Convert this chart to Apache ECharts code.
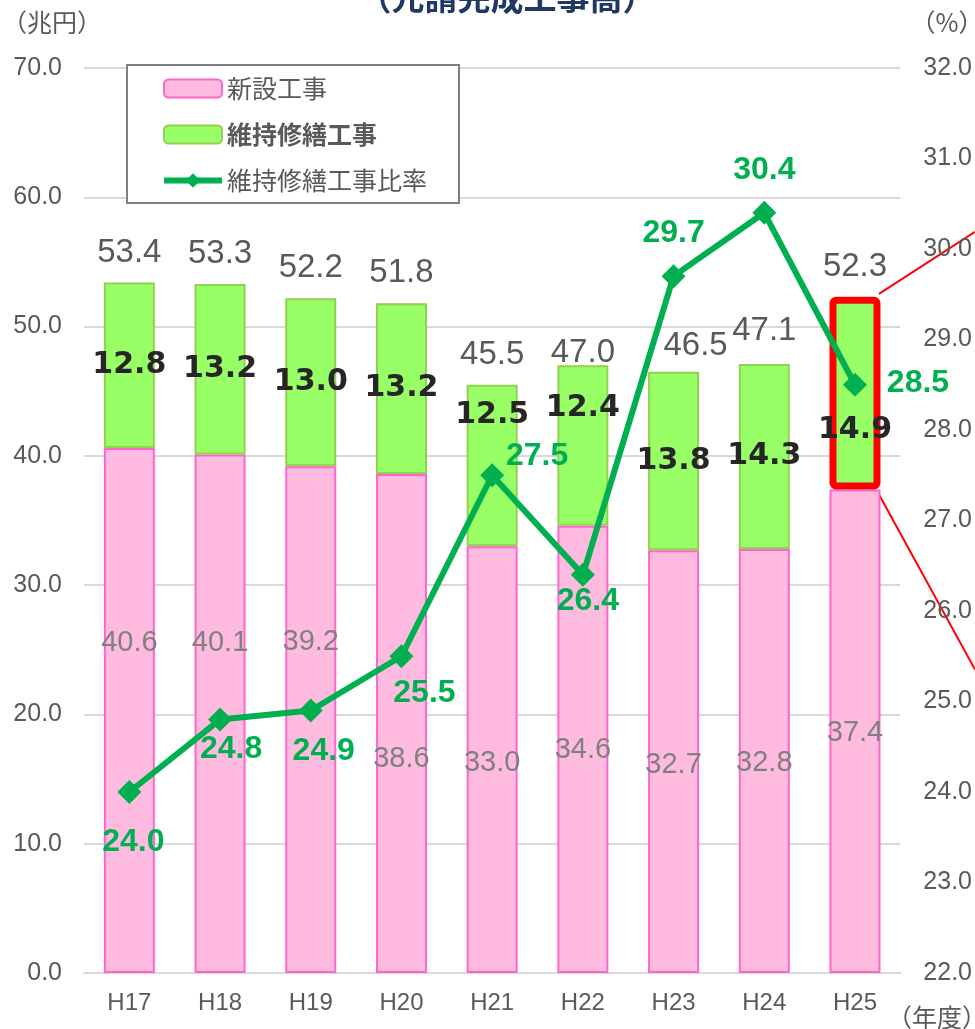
<!DOCTYPE html>
<html>
<head>
<meta charset="utf-8">
<script src="https://cdn.jsdelivr.net/npm/echarts@6/dist/echarts.min.js"></script>
<style>
  html, body { margin: 0; padding: 0; background: #fff; }
  #chart { width: 975px; height: 1029px; }
</style>
</head>
<body>
<div id="chart"></div>
<script>
// 年度
var years = ['H17', 'H18', 'H19', 'H20', 'H21', 'H22', 'H23', 'H24', 'H25'];
// 新設工事（兆円）
var newWork = [40.6, 40.1, 39.2, 38.6, 33.0, 34.6, 32.7, 32.8, 37.4];
// 維持修繕工事（兆円）
var repairWork = [12.8, 13.2, 13.0, 13.2, 12.5, 12.4, 13.8, 14.3, 14.9];
// 合計（兆円）
var totals = [53.4, 53.3, 52.2, 51.8, 45.5, 47.0, 46.5, 47.1, 52.3];
// 維持修繕工事比率（%）
var repairRatio = [24.0, 24.8, 24.9, 25.5, 27.5, 26.4, 29.7, 30.4, 28.5];

// ラベル位置の微調整（px）
var newLabelShift = [-68, -71, -78, 36, 3, 1, 3, 2, 2];
var repairLabelShift = [0, 0, 0, 0, -50, -37, 0, 0, 37];
var totalLabelShift = [[0, 0], [0, 0], [0, 0], [0, 0], [0, 0], [0, 18], [22, 4], [0, -3], [0, 0]];
var ratioLabelShift = [[4, 50], [11, 30], [13, 41], [23, 37], [45, -19], [5, 26], [0, -43], [0, -43], [63, -2]];
var highlightIndex = 8;

var FONT = "'Liberation Sans', 'Noto Sans CJK JP', sans-serif";
var CJK = "'Noto Sans CJK JP', sans-serif";

var chart = echarts.init(document.getElementById('chart'));

chart.setOption({
  animation: false,
  textStyle: { fontFamily: FONT },
  grid: { left: 84, right: 61, top: 68, bottom: 56 },
  legend: {
    data: ['新設工事', '維持修繕工事', '維持修繕工事比率'],
    orient: 'vertical',
    left: 127,
    top: 65,
    padding: [11, 32, 10, 34],
    itemGap: 21,
    itemWidth: 58,
    itemHeight: 18,
    backgroundColor: '#fff',
    borderColor: '#7f7f7f',
    borderWidth: 2,
    lineStyle: { width: 6 },
    textStyle: {
      fontFamily: CJK,
      fontSize: 25,
      color: '#595959',
      rich: { b: { fontFamily: CJK, fontSize: 25, fontWeight: 'bold', color: '#595959' } }
    },
    formatter: function (name) {
      return name === '維持修繕工事' ? '{b|' + name + '}' : name;
    }
  },
  xAxis: {
    type: 'category',
    data: years,
    axisLine: { lineStyle: { color: '#d9d9d9', width: 2 } },
    axisTick: { show: false },
    axisLabel: { color: '#595959', fontSize: 24, margin: 18 }
  },
  yAxis: [{
    type: 'value',
    min: 0, max: 70, interval: 10,
    axisLabel: {
      color: '#595959', fontSize: 25, margin: 22,
      formatter: function (v) { return v.toFixed(1); }
    },
    splitLine: { lineStyle: { color: '#d9d9d9', width: 2 } }
  }, {
    type: 'value',
    min: 22, max: 32, interval: 1,
    axisLabel: {
      color: '#595959', fontSize: 25, margin: 23,
      formatter: function (v) { return v.toFixed(1); }
    },
    splitLine: { show: false }
  }],
  series: [{
    name: '新設工事',
    type: 'bar',
    stack: 'total',
    barWidth: 51,
    itemStyle: { color: '#ffbadf', borderColor: '#ff66cc', borderWidth: 2 },
    label: {
      show: true, position: 'inside',
      color: '#808080', fontSize: 29,
      formatter: function (p) { return p.value.toFixed(1); }
    },
    data: newWork.map(function (v, i) {
      return { value: v, label: { offset: [0, newLabelShift[i]] } };
    })
  }, {
    name: '維持修繕工事',
    type: 'bar',
    stack: 'total',
    itemStyle: { color: '#99ff66', borderColor: '#92d050', borderWidth: 2 },
    label: {
      show: true, position: 'inside',
      color: '#262626', fontSize: 30, fontWeight: 'bold',
      fontFamily: "'DejaVu Sans', sans-serif",
      formatter: function (p) { return p.value.toFixed(1); }
    },
    data: repairWork.map(function (v, i) {
      var d = { value: v, label: { offset: [0, repairLabelShift[i]] } };
      if (i === highlightIndex) {
        d.itemStyle = { borderColor: '#ff0000', borderWidth: 7, borderRadius: 3 };
      }
      return d;
    })
  }, {
    name: '合計',
    type: 'line',
    symbol: 'circle',
    symbolSize: 1,
    itemStyle: { color: 'rgba(0,0,0,0)' },
    lineStyle: { opacity: 0 },
    silent: true,
    label: {
      show: true, position: 'top', distance: 13,
      color: '#595959', fontSize: 33,
      formatter: function (p) { return p.value.toFixed(1); }
    },
    data: totals.map(function (v, i) {
      return { value: v, label: { offset: totalLabelShift[i] } };
    })
  }, {
    name: '維持修繕工事比率',
    type: 'line',
    yAxisIndex: 1,
    symbol: 'diamond',
    symbolSize: 24,
    itemStyle: { color: '#00b050' },
    lineStyle: { color: '#00b050', width: 6 },
    label: {
      show: true, position: 'inside',
      color: '#00b050', fontSize: 32, fontWeight: 'bold',
      formatter: function (p) { return p.value.toFixed(1); }
    },
    data: repairRatio.map(function (v, i) {
      return { value: v, label: { offset: ratioLabelShift[i] } };
    })
  }]
});

// 強調枠から伸びる赤線、見出し、単位
var top25 = chart.convertToPixel({ xAxisIndex: 0, yAxisIndex: 0 }, [highlightIndex, totals[highlightIndex]]);
var bot25 = chart.convertToPixel({ xAxisIndex: 0, yAxisIndex: 0 }, [highlightIndex, newWork[highlightIndex]]);
var edge = top25[0] + 25;

chart.setOption({
  graphic: [{
    type: 'line',
    shape: { x1: edge - 1, y1: top25[1] - 3, x2: 975, y2: top25[1] - 65 },
    style: { stroke: '#ff0000', lineWidth: 2 }
  }, {
    type: 'line',
    shape: { x1: edge - 1, y1: bot25[1] + 5, x2: 975, y2: bot25[1] + 180 },
    style: { stroke: '#ff0000', lineWidth: 2 }
  }, {
    type: 'text',
    x: 507, y: -3,
    style: {
      text: '（元請完成工事高）', fill: '#1f3864',
      font: "bold 33px 'Noto Sans CJK JP', sans-serif",
      textAlign: 'center', textVerticalAlign: 'middle'
    }
  }, {
    type: 'text',
    x: 52, y: 22,
    style: {
      text: '（兆円）', fill: '#595959',
      font: "25px 'Noto Sans CJK JP', sans-serif",
      textAlign: 'center', textVerticalAlign: 'middle'
    }
  }, {
    type: 'text',
    x: 947, y: 22,
    style: {
      text: '（%）', fill: '#595959',
      font: "25px 'Noto Sans CJK JP', sans-serif",
      textAlign: 'center', textVerticalAlign: 'middle'
    }
  }, {
    type: 'text',
    x: 937, y: 1017,
    style: {
      text: '（年度）', fill: '#595959',
      font: "25px 'Noto Sans CJK JP', sans-serif",
      textAlign: 'center', textVerticalAlign: 'middle'
    }
  }]
});
</script>
</body>
</html>
